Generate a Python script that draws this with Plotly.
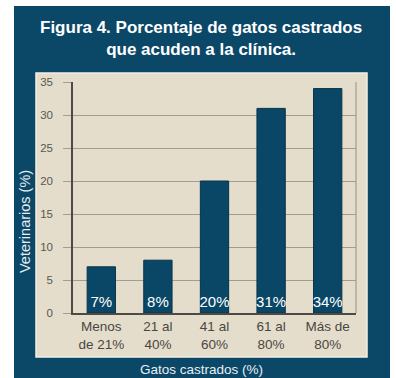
import plotly.graph_objects as go

categories = ["Menos<br>de 21%", "21 al<br>40%", "41 al<br>60%", "61 al<br>80%", "Más de<br>80%"]
values = [7, 8, 20, 31, 34]
y_ticks = [0, 5, 10, 15, 20, 25, 30, 35]

NAVY = "#0b4868"
BAR = "#0a4766"
BEIGE = "#e4ddcc"
GRID = "#a39d8e"
FONT = "Liberation Sans, Arial, sans-serif"

# plot area in pixels: x 73..356, y 82..313 (231 tall, 283 wide)
PW, PH = 283, 231


def px_x(p):
    return (p - 73) / PW


def px_y(p):
    return (313 - p) / PH


fig = go.Figure(
    go.Bar(
        x=categories,
        y=values,
        width=0.5,
        marker=dict(color=BAR, line=dict(color="#06324a", width=1)),
        texttemplate="%{y}%",
        textposition="inside",
        insidetextanchor="start",
        textangle=0,
        constraintext="none",
        textfont=dict(color="white", size=15, family=FONT),
        cliponaxis=False,
    )
)

fig.update_layout(
    width=396,
    height=378,
    margin=dict(l=73, r=40, t=82, b=65),
    paper_bgcolor="white",
    plot_bgcolor=BEIGE,
    showlegend=False,
    font=dict(family=FONT),
    shapes=[
        # navy outer panel
        dict(type="rect", xref="paper", yref="paper", layer="below",
             x0=px_x(14), x1=px_x(390), y0=px_y(379), y1=px_y(6),
             fillcolor=NAVY, line=dict(width=0)),
        # beige inner panel with light border
        dict(type="rect", xref="paper", yref="paper", layer="below",
             x0=px_x(36), x1=px_x(367), y0=px_y(357), y1=px_y(73),
             fillcolor=BEIGE, line=dict(color="#f4efe4", width=1.5)),
        # right border of the plot area
        dict(type="line", xref="paper", yref="paper",
             x0=1, x1=1, y0=0, y1=1, line=dict(color=GRID, width=1.2)),
    ],
    annotations=[
        dict(text="<b>Figura 4. Porcentaje de gatos castrados<br>que acuden a la clínica.</b>",
             xref="paper", yref="paper", x=px_x(201), y=px_y(38),
             xanchor="center", yanchor="middle", showarrow=False,
             font=dict(color="white", size=17, family=FONT)),
        dict(text="Veterinarios (%)", xref="paper", yref="paper",
             x=px_x(25), y=px_y(222), textangle=-90, showarrow=False,
             xanchor="center", yanchor="middle",
             font=dict(color="#e8eef2", size=14.5, family=FONT)),
        dict(text="Gatos castrados (%)", xref="paper", yref="paper",
             x=px_x(201), y=px_y(369), showarrow=False,
             xanchor="center", yanchor="middle",
             font=dict(color="#e8eef2", size=13.5, family=FONT)),
    ],
)

fig.update_xaxes(
    showline=True, linecolor="#4d4a44", linewidth=1.5,
    showgrid=False, ticks="",
    tickfont=dict(color="#4a4740", size=13.5, family=FONT),
)
fig.update_yaxes(
    range=[0, 35], tickvals=y_ticks,
    showline=True, linecolor="#4d4a44", linewidth=1.5,
    showgrid=True, gridcolor=GRID, gridwidth=1.2,
    ticks="outside", ticklen=8, tickcolor=GRID, tickwidth=1.2,
    ticklabelstandoff=8,
    tickfont=dict(color="#5a574f", size=11.5, family=FONT),
    zeroline=False,
)

fig.write_html("out.html")
